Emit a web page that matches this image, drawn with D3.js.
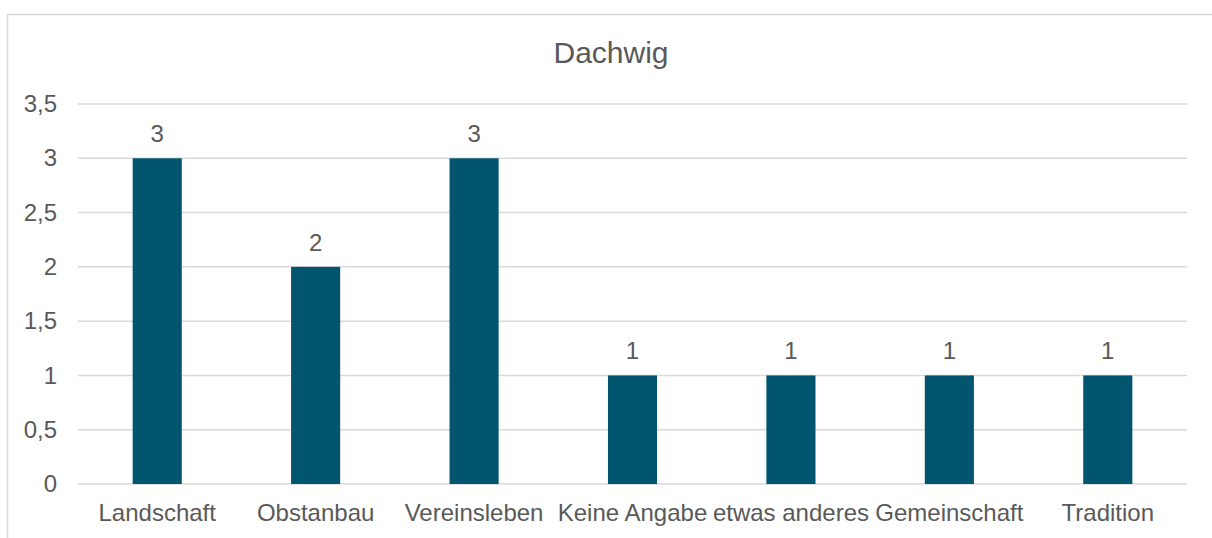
<!DOCTYPE html>
<html>
<head>
<meta charset="utf-8">
<script src="https://cdn.jsdelivr.net/npm/d3@7"></script>
<style>
  html, body { margin: 0; padding: 0; background: #fff; }
  svg { display: block; }
  text { font-family: "Liberation Sans", Arial, sans-serif; fill: #595959; }
</style>
</head>
<body>
<svg id="chart" width="1212" height="538"></svg>
<script>
const title = "Dachwig";
const categories = ["Landschaft", "Obstanbau", "Vereinsleben", "Keine Angabe", "etwas anderes", "Gemeinschaft", "Tradition"];
const values = [3, 2, 3, 1, 1, 1, 1];
const yTicks = [0, 0.5, 1, 1.5, 2, 2.5, 3, 3.5];

const svg = d3.select("#chart");
const W = 1212, H = 538;
const plot = { left: 78, right: 1187, top: 104, bottom: 484 };

// chart border
svg.append("rect")
  .attr("x", 7.5).attr("y", 14.5)
  .attr("width", 1240).attr("height", 560)
  .attr("fill", "none").attr("stroke", "#d9d9d9").attr("stroke-width", 1.5);

const x = d3.scaleBand().domain(categories).range([plot.left, plot.right]).padding(0);
const y = d3.scaleLinear().domain([0, 3.5]).range([plot.bottom, plot.top]);
const fmt = v => String(v).replace(".", ",");

// gridlines
svg.append("g").selectAll("line").data(yTicks).join("line")
  .attr("x1", plot.left).attr("x2", plot.right)
  .attr("y1", d => y(d)).attr("y2", d => y(d))
  .attr("stroke", "#d9d9d9").attr("stroke-width", 1.5);

// y axis labels
const yAxis = d3.axisLeft(y).tickValues(yTicks).tickFormat(fmt).tickSize(0).tickPadding(21);
const gy = svg.append("g").attr("transform", `translate(${plot.left},0)`).call(yAxis);
gy.select(".domain").remove();
gy.selectAll("text").attr("font-size", 24).attr("fill", "#595959")
  .style("font-family", '"Liberation Sans", Arial, sans-serif');

// bars
const barW = x.bandwidth() * 0.31;
svg.append("g").selectAll("rect").data(values).join("rect")
  .attr("x", (d, i) => x(categories[i]) + x.bandwidth() / 2 - barW / 2)
  .attr("width", barW)
  .attr("y", d => y(d))
  .attr("height", d => y(0) - y(d))
  .attr("fill", "#01556F");

// value labels
svg.append("g").selectAll("text").data(values).join("text")
  .attr("x", (d, i) => x(categories[i]) + x.bandwidth() / 2)
  .attr("y", d => y(d) - 16)
  .attr("text-anchor", "middle")
  .attr("font-size", 24)
  .text(d => fmt(d));

// x axis labels
const xAxis = d3.axisBottom(x).tickSize(0).tickPadding(0);
const gx = svg.append("g").attr("transform", `translate(0,${plot.bottom})`).call(xAxis);
gx.select(".domain").remove();
gx.selectAll("text").attr("font-size", 24).attr("fill", "#595959")
  .attr("dy", null).attr("y", 37)
  .style("font-family", '"Liberation Sans", Arial, sans-serif');

// title
svg.append("text")
  .attr("x", 611).attr("y", 63)
  .attr("text-anchor", "middle")
  .attr("font-size", 30)
  .text(title);
</script>
</body>
</html>
